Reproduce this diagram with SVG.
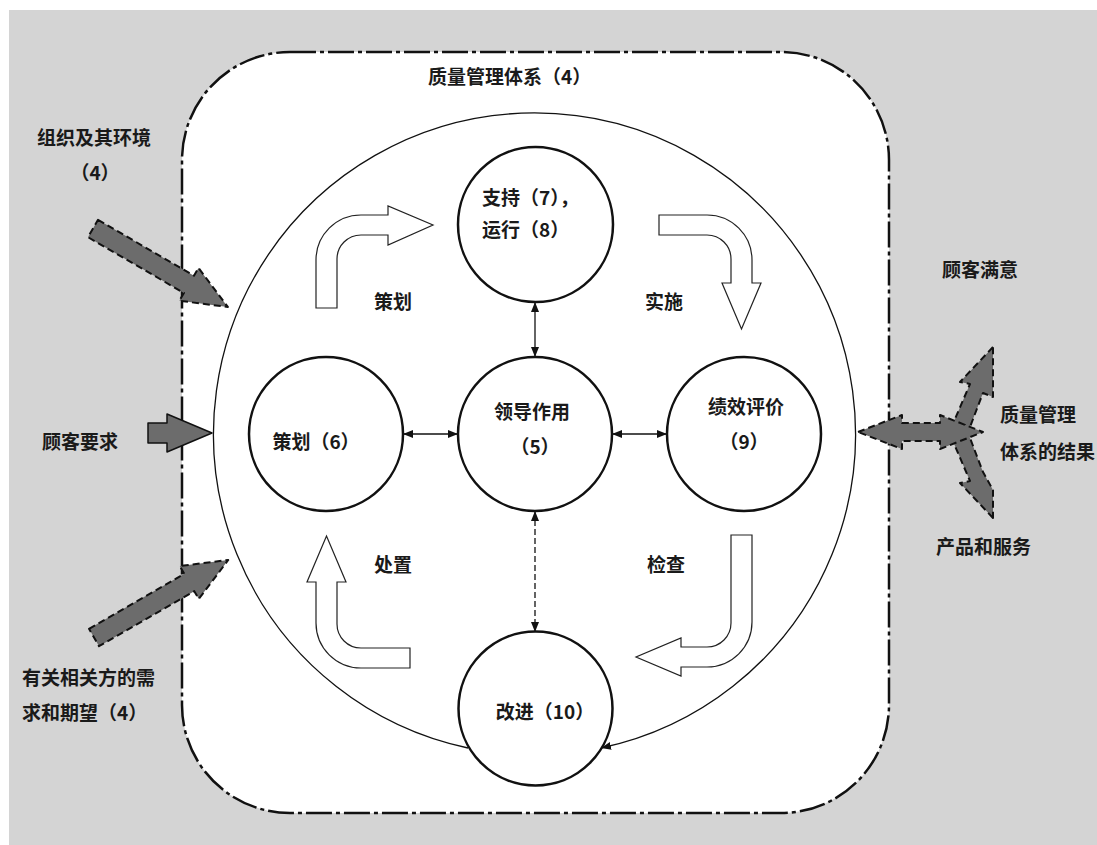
<svg xmlns="http://www.w3.org/2000/svg" width="1097" height="845" viewBox="0 0 1097 845">
<defs>
<style>
.t{font-family:"Noto Sans CJK SC","Noto Sans CJK JP",sans-serif;font-size:19px;font-weight:700;fill:#1a1a1a}
.m{text-anchor:middle}
.node{fill:#fff;stroke:#111;stroke-width:2.5}
.blk{fill:#fff;stroke:#222;stroke-width:1.2;stroke-linejoin:miter}
.gin{fill:#6c6c6c;stroke:#111;stroke-width:2;stroke-dasharray:7 4;stroke-linejoin:round}
.thin{fill:none;stroke:#111;stroke-width:1.3}
</style>
<marker id="ah" viewBox="0 0 10 8" refX="10" refY="4" markerWidth="10" markerHeight="8" markerUnits="userSpaceOnUse" orient="auto-start-reverse">
<path d="M0 0 L10 4 L0 8 Z" fill="#111"/>
</marker>
</defs>
<rect x="0" y="0" width="1097" height="845" fill="#fff"/>
<rect x="9" y="10" width="1088" height="835" fill="#d4d4d4"/>
<g id="qms-boundary">
<rect x="182" y="52" width="707" height="761" rx="108" ry="108" fill="#fff" stroke="#111" stroke-width="2.5" stroke-dasharray="26 4 4 4"/>
</g>
<g id="connectors">
<path class="thin" d="M 468 748 A 321 321 0 1 1 601 748" marker-end="url(#ah)"/>
<line class="thin" x1="535" y1="302" x2="535" y2="357" marker-start="url(#ah)" marker-end="url(#ah)"/>
<line class="thin" x1="403" y1="434" x2="458" y2="434" marker-start="url(#ah)" marker-end="url(#ah)"/>
<line class="thin" x1="612" y1="434" x2="667" y2="434" marker-start="url(#ah)" marker-end="url(#ah)"/>
<line class="thin" x1="535" y1="511" x2="535" y2="632" stroke-dasharray="6 3" marker-start="url(#ah)" marker-end="url(#ah)"/>
<path class="blk" d="M 316 308 L 316 260 A 45 45 0 0 1 361 215 L 388 215 L 388 206 L 433 225 L 388 245 L 388 235 L 361 235 A 24 24 0 0 0 337 259 L 337 308 Z"/>
<path class="blk" d="M 659 215 L 707 215 A 45 45 0 0 1 752 260 L 752 283 L 761 283 L 741.5 329 L 722 283 L 731 283 L 731 259 A 24 24 0 0 0 707 235 L 659 235 Z"/>
<path class="blk" d="M 731 535 L 752 535 L 752 622 A 45 45 0 0 1 707 667 L 681 667 L 681 676 L 636 657 L 681 638 L 681 647 L 707 647 A 24 24 0 0 0 731 623 Z"/>
<path class="blk" d="M 410 648 L 361 648 A 24 24 0 0 1 337 624 L 337 582 L 346 582 L 326.5 536 L 307 582 L 316 582 L 316 623 A 45 45 0 0 0 361 668 L 410 668 Z"/>
<polygon class="gin" transform="translate(93 228.5) rotate(30.2)" points="0,-10 111,-10 111,-19 156,0 111,19 111,10 0,10"/>
<polygon class="gin" transform="translate(148 433)" style="stroke-dasharray:none;stroke-width:1.5" points="0,-10 19,-10 19,-19 64,0 19,19 19,10 0,10"/>
<polygon class="gin" transform="translate(94 637.5) rotate(-30)" points="0,-10 110,-10 110,-19 155,0 110,19 110,10 0,10"/>
<polygon class="gin" points="993,347 960,382 970,384 946,440 965,440 983,393 993,397"/>
<polygon class="gin" points="993,518 960,483 970,481 946,425 965,425 983,472 993,490"/>
<polygon class="gin" points="858,432 902,415 902,423 940,423 940,415 983,432 940,449 940,441 902,441 902,449"/>
</g>
<g id="node-support">
<circle class="node" cx="535.5" cy="224.5" r="77.5"/>
<text class="t" x="482" y="205">支持（7），</text>
<text class="t" x="482" y="237">运行（8）</text>
</g>
<g id="node-leadership">
<circle class="node" cx="535" cy="434" r="77"/>
<text class="t m" x="532" y="419">领导作用</text>
<text class="t m" x="535" y="454">（5）</text>
</g>
<g id="node-planning">
<circle class="node" cx="326" cy="434" r="77"/>
<text class="t m" x="316" y="449">策划（6）</text>
</g>
<g id="node-performance">
<circle class="node" cx="744" cy="434" r="77"/>
<text class="t m" x="746" y="414">绩效评价</text>
<text class="t m" x="744" y="449">（9）</text>
</g>
<g id="node-improvement">
<circle class="node" cx="535.5" cy="708.5" r="77"/>
<text class="t m" x="545" y="719">改进（10）</text>
</g>
<g id="labels">
<text class="t" x="428" y="84">质量管理体系（4）</text>
<text class="t" x="37" y="145">组织及其环境</text>
<text class="t m" x="95" y="180">（4）</text>
<text class="t" x="374" y="309">策划</text>
<text class="t" x="645" y="309">实施</text>
<text class="t" x="942" y="277">顾客满意</text>
<text class="t" x="42" y="449">顾客要求</text>
<text class="t" x="374" y="572">处置</text>
<text class="t" x="647" y="572">检查</text>
<text class="t" x="22" y="685">有关相关方的需</text>
<text class="t" x="22" y="720">求和期望（4）</text>
<text class="t" x="1000" y="422">质量管理</text>
<text class="t" x="1000" y="459">体系的结果</text>
<text class="t" x="936" y="554">产品和服务</text>
</g>
</svg>
